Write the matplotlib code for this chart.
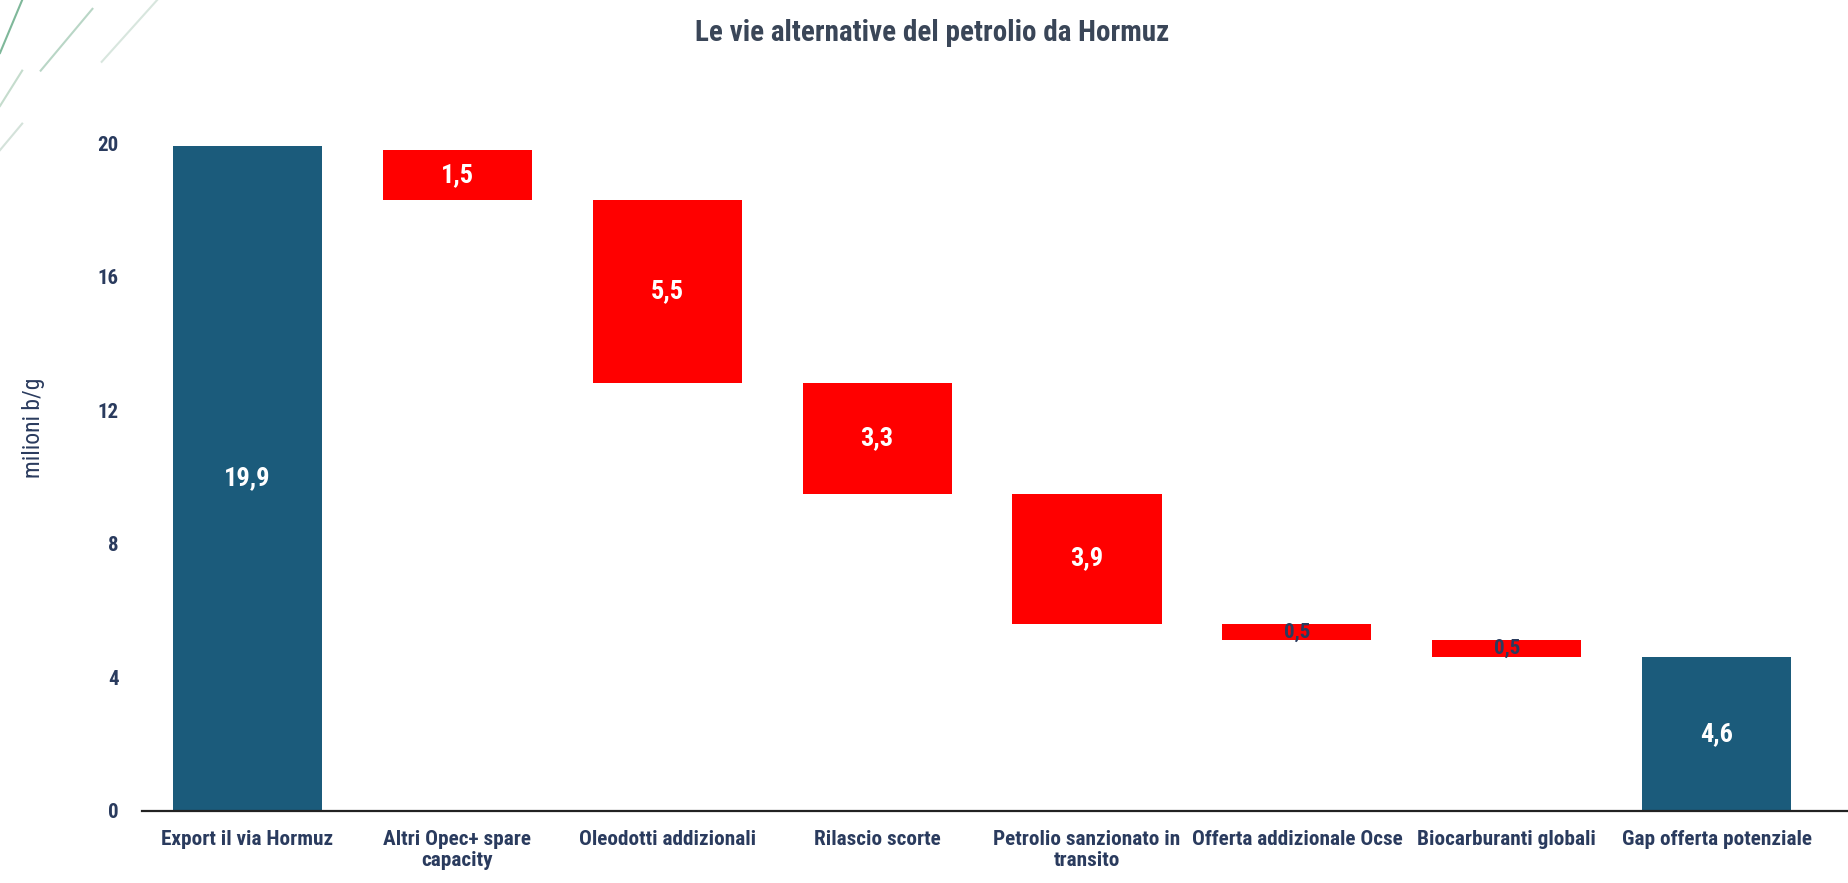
import matplotlib.pyplot as plt
from matplotlib import font_manager

categories = ["Export il via Hormuz", "Altri Opec+ spare\ncapacity", "Oleodotti addizionali",
              "Rilascio scorte", "Petrolio sanzionato in\ntransito", "Offerta addizionale Ocse",
              "Biocarburanti globali", "Gap offerta potenziale"]
start_value = 19.9
decreases = [1.5, 5.5, 3.3, 3.9, 0.5, 0.5]
gap_value = 4.6
labels = ["19,9", "1,5", "5,5", "3,3", "3,9", "0,5", "0,5", "4,6"]

names = {f.name for f in font_manager.fontManager.ttflist}
fam = [f for f in ["Liberation Sans Narrow", "Roboto Condensed", "DejaVu Sans Condensed", "DejaVu Sans"] if f in names]
plt.rcParams['font.family'] = fam

teal = "#1b5b7b"
red = "#ff0000"
navy = "#2a3b5e"

# red bars hang down from the running total, ending at the gap value
tops = []
level = gap_value + sum(decreases)
for d in decreases:
    tops.append(level)
    level -= d

fig = plt.figure(figsize=(18.49, 8.83), dpi=100)
ax = fig.add_axes([0.077, 0.082, 0.923, 0.79])

w = 0.71
ax.bar(0, start_value, width=w, color=teal)
for i, (t, d) in enumerate(zip(tops, decreases), start=1):
    ax.bar(i, d, bottom=t - d, width=w, color=red)
ax.bar(7, gap_value, width=w, color=teal)

ax.text(0, start_value / 2, labels[0], ha="center", va="center", color="white", fontsize=19, fontweight="bold")
for i, (t, d) in enumerate(zip(tops, decreases), start=1):
    col = "white" if d > 1 else navy
    fs = 19 if d > 1 else 15
    ax.text(i, t - d / 2, labels[i], ha="center", va="center", color=col, fontsize=fs, fontweight="bold")
ax.text(7, gap_value / 2, labels[7], ha="center", va="center", color="white", fontsize=19, fontweight="bold")

ax.set_xlim(-0.5, 7.63)
ax.set_ylim(0, 20.9)
ax.set_yticks([0, 4, 8, 12, 16, 20])
ax.set_xticks(range(len(categories)))
ax.set_xticklabels(categories, fontsize=15.3, color=navy, fontweight="bold", linespacing=1.1)
for lab in ax.get_yticklabels():
    lab.set_fontsize(15)
    lab.set_color(navy)
    lab.set_fontweight("bold")
ax.tick_params(axis="both", length=0)
ax.tick_params(axis="y", pad=17)
ax.tick_params(axis="x", pad=14)
for s in ["top", "right", "left"]:
    ax.spines[s].set_visible(False)
ax.spines["bottom"].set_color("#222222")
ax.spines["bottom"].set_linewidth(1.6)

fig.text(0.018, 0.515, "milioni b/g", rotation=90, ha="center", va="center", fontsize=17, color=navy)
fig.text(0.504, 0.963, "Le vie alternative del petrolio da Hormuz", ha="center", va="center",
         fontsize=21, color="#3a4658", fontweight="bold")

# decorative diagonal strokes top-left
for (x0, y0, x1, y1, c) in [(0.0, 0.94, 0.012, 1.0, "#7fb89a"), (0.022, 0.92, 0.05, 0.99, "#b9d6c6"),
                            (0.055, 0.93, 0.085, 1.0, "#d8e6de"), (0.0, 0.88, 0.012, 0.92, "#c5dccd"),
                            (0.0, 0.83, 0.012, 0.86, "#d4e2da")]:
    fig.add_artist(plt.Line2D([x0, x1], [y0, y1], color=c, lw=1.5, transform=fig.transFigure))

fig.savefig("out.png", dpi=100, facecolor="white")
